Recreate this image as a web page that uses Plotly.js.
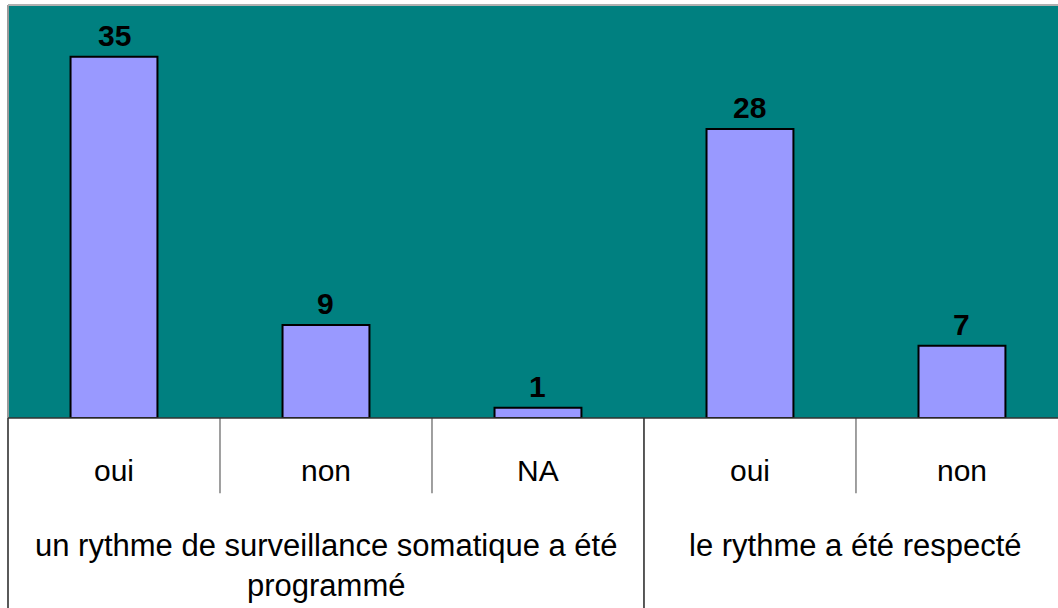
<!DOCTYPE html>
<html>
<head>
<meta charset="utf-8">
<script src="https://cdn.plot.ly/plotly-3.0.1.min.js"></script>
<style>html,body{margin:0;padding:0;background:#fff;}#chart{width:1058px;height:608px;}</style>
</head>
<body>
<div id="chart"></div>
<script>
const subLabels = ["oui", "non", "NA", "oui", "non"];
const values = [35, 9, 1, 28, 7];
const groups = ["un rythme de surveillance somatique a été<br>programmé", "le rythme a été respecté"];
const groupSpans = [[0, 2], [3, 4]];

const xs = subLabels.map((_, i) => i);
const FONT = "Liberation Sans, Arial, sans-serif";

const annotations = [];
values.forEach((v, i) => {
  annotations.push({x: i, y: v, xref: 'x', yref: 'y', text: '<b>' + v + '</b>', showarrow: false,
    yanchor: 'bottom', yshift: 3, font: {family: FONT, size: 30, color: '#000'}});
});
subLabels.forEach((s, i) => {
  annotations.push({x: i, y: -0.127, xref: 'x', yref: 'paper', text: s, showarrow: false,
    yanchor: 'middle', font: {family: FONT, size: 30, color: '#000'}});
});
groups.forEach((g, k) => {
  const c = (groupSpans[k][0] + groupSpans[k][1]) / 2;
  annotations.push({x: c, y: -0.262, xref: 'x', yref: 'paper', text: g, showarrow: false,
    yanchor: 'top', align: 'center', font: {family: FONT, size: 31, color: '#000'}});
});

const shapes = [];
for (let i = 0; i < subLabels.length - 1; i++) {
  const isGroupBoundary = groupSpans.some(sp => sp[1] === i);
  shapes.push({type: 'line', xref: 'x', yref: 'paper', x0: i + 0.5, x1: i + 0.5, y0: 0,
    y1: isGroupBoundary ? -0.46 : -0.182,
    line: {color: isGroupBoundary ? '#000' : '#808080', width: isGroupBoundary ? 1.3 : 1.5}});
}
shapes.push({type: 'line', xref: 'paper', yref: 'paper', x0: 0, x1: 0, y0: -0.46, y1: 0, line: {color: '#000', width: 1.3}});
shapes.push({type: 'line', xref: 'paper', yref: 'paper', x0: 0, x1: 0, y0: 0, y1: 1, line: {color: '#9a9a9a', width: 2}});
shapes.push({type: 'line', xref: 'paper', yref: 'paper', x0: 0, x1: 1, y0: 1, y1: 1, line: {color: '#b0b0b0', width: 2}});
shapes.push({type: 'line', xref: 'paper', yref: 'paper', x0: 0, x1: 1, y0: 0, y1: 0, line: {color: '#333', width: 1.5}});

const trace = {
  type: 'bar', x: xs, y: values, width: 0.41,
  marker: {color: '#9999FF', line: {color: '#000', width: 2}},
  hoverinfo: 'none'
};

const layout = {
  width: 1058, height: 608,
  margin: {l: 8, r: 0, t: 5, b: 190},
  paper_bgcolor: '#fff', plot_bgcolor: '#008080',
  showlegend: false,
  xaxis: {range: [-0.5, 4.453], showticklabels: false, ticks: '', showgrid: false, zeroline: false, showline: false, fixedrange: true},
  yaxis: {range: [0, 40], showticklabels: false, ticks: '', showgrid: false, zeroline: false, showline: false, fixedrange: true},
  annotations: annotations,
  shapes: shapes
};

Plotly.newPlot('chart', [trace], layout, {displayModeBar: false, staticPlot: true});
</script>
</body>
</html>
